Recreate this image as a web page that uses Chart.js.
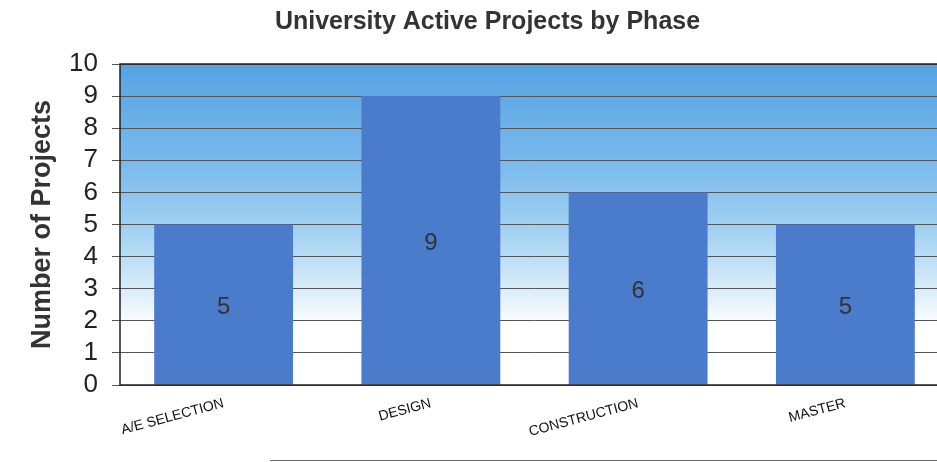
<!DOCTYPE html>
<html>
<head>
<meta charset="utf-8">
<script src="https://cdn.jsdelivr.net/npm/chart.js@4"></script>
<style>
  html, body { margin: 0; padding: 0; overflow: hidden; background: #fff; }
  #wrap { width: 960px; height: 462px; }
</style>
</head>
<body>
<div id="wrap"><canvas id="phaseChart" width="960" height="462"></canvas></div>
<script>
// chart data
const phases = ['A/E SELECTION', 'DESIGN', 'CONSTRUCTION', 'MASTER'];
const projectCounts = [5, 9, 6, 5];
const yTicks = [0, 1, 2, 3, 4, 5, 6, 7, 8, 9, 10];

const FONT = '"Liberation Sans", Arial, sans-serif';

// blue fade behind the plot + frame
const plotBackground = {
    id: 'plotBackground',
    beforeDraw(chart) {
        const { ctx, chartArea: a } = chart;
        const g = ctx.createLinearGradient(0, a.top, 0, a.bottom);
        g.addColorStop(0, '#56a3e3');
        g.addColorStop(0.3, '#78b9ec');
        g.addColorStop(0.55, '#aad5f3');
        g.addColorStop(0.82, '#ffffff');
        g.addColorStop(1, '#ffffff');
        ctx.save();
        ctx.fillStyle = g;
        ctx.fillRect(a.left, a.top, a.right - a.left, a.bottom - a.top);
        ctx.restore();
    },
    afterDraw(chart) {
        const { ctx, chartArea: a } = chart;
        ctx.save();
        ctx.strokeStyle = '#222';
        ctx.lineWidth = 1.5;
        ctx.strokeRect(a.left, a.top, a.right - a.left + 20, a.bottom - a.top);
        // scanned page edge at the bottom
        ctx.strokeStyle = '#666';
        ctx.lineWidth = 1;
        ctx.beginPath();
        ctx.moveTo(270, 460.5);
        ctx.lineTo(chart.width, 460.5);
        ctx.stroke();
        ctx.restore();
    }
};

// value in the middle of each bar
const barValues = {
    id: 'barValues',
    afterDatasetsDraw(chart) {
        const { ctx } = chart;
        const meta = chart.getDatasetMeta(0);
        ctx.save();
        ctx.font = '24px ' + FONT;
        ctx.fillStyle = '#333';
        ctx.textAlign = 'center';
        ctx.textBaseline = 'middle';
        meta.data.forEach((bar, i) => {
            const mid = (bar.y + bar.base) / 2 + 3;
            ctx.fillText(projectCounts[i], bar.x, mid);
        });
        ctx.restore();
    }
};

const ctx = document.getElementById('phaseChart').getContext('2d');
new Chart(ctx, {
    type: 'bar',
    data: {
        labels: phases,
        datasets: [{
            data: projectCounts,
            backgroundColor: '#4b7bcb',
            borderWidth: 0,
            categoryPercentage: 1,
            barPercentage: 0.67
        }]
    },
    options: {
        responsive: false,
        animation: false,
        layout: { padding: { left: 26, right: 11, bottom: 0 } },
        plugins: {
            legend: { display: false },
            tooltip: { enabled: false },
            title: {
                display: true,
                text: 'University Active Projects by Phase',
                color: '#333',
                font: { family: FONT, size: 25, weight: 'bold' },
                padding: { top: 7, bottom: 27 }
            }
        },
        scales: {
            x: {
                grid: { display: false },
                border: { display: false },
                ticks: {
                    color: '#111',
                    font: { family: FONT, size: 14 },
                    minRotation: 15,
                    maxRotation: 15,
                    padding: 2
                },
                afterFit(s) { s.height = 77; }
            },
            y: {
                min: 0,
                max: 10,
                afterBuildTicks(s) { s.ticks = yTicks.map(v => ({ value: v })); },
                grid: { color: '#555', lineWidth: 1, tickLength: 8, drawOnChartArea: true },
                border: { display: false },
                ticks: {
                    autoSkip: false,
                    color: '#222',
                    font: { family: FONT, size: 26, lineHeight: 1 },
                    padding: 14
                },
                title: {
                    display: true,
                    text: 'Number of Projects',
                    color: '#333',
                    font: { family: FONT, size: 27, weight: 'bold' },
                    padding: { top: 0, bottom: 0 }
                },
                afterFit(s) { s.width = 94; }
            }
        }
    },
    plugins: [plotBackground, barValues]
});
</script>
</body>
</html>
